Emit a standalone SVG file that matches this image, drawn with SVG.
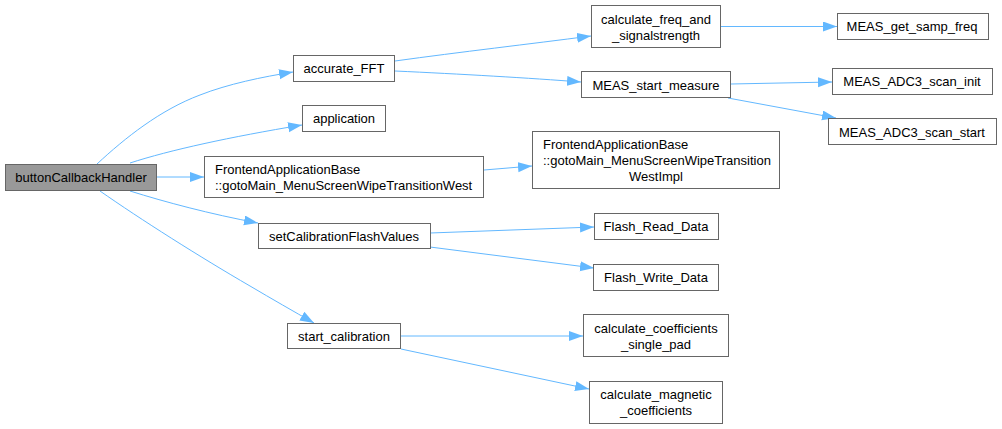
<svg xmlns="http://www.w3.org/2000/svg" width="1002" height="429" viewBox="0 0 1002 429">
<style>
.n rect{fill:#ffffff;stroke:#666666;stroke-width:1}
.n rect.hl{fill:#999999}
.n text{font-family:"Liberation Sans",Arial,sans-serif;font-size:13px;fill:#000000}
.c{text-anchor:middle}
.e path{fill:none;stroke:#63b8ff;stroke-width:1;marker-end:url(#arr)}
</style>
<defs>
<marker id="arr" markerWidth="15" markerHeight="11" refX="14" refY="5" orient="auto" markerUnits="userSpaceOnUse">
<path d="M0,0 L14,5 L0,10 z" fill="#63b8ff" stroke="none"/>
</marker>
</defs>
<rect width="1002" height="429" fill="#ffffff"/>
<g id="edges" class="e">
<path d="M97,164 C125,138 160,110 200,95 C228,84 262,77 293,72"/>
<path d="M130,163 C170,150 230,137 302,125"/>
<path d="M157,177 L204,177"/>
<path d="M130,191 C165,202 210,214 258,223"/>
<path d="M100,191 C140,219 200,257 250,286 C272,299 293,311 314,323"/>
<path d="M395,61 C460,52 530,44 591,36"/>
<path d="M395,71 C460,74 530,78 581,82"/>
<path d="M721,26.5 L837,26.5"/>
<path d="M731,84 L832,82"/>
<path d="M728,98 L836,118"/>
<path d="M484,170 L532,166"/>
<path d="M430,233 L594,227"/>
<path d="M430,247 L594,268"/>
<path d="M401,336 L583,336"/>
<path d="M401,349 L589,389"/>
</g>
<g id="buttonCallbackHandler" class="n"><rect class="hl" x="5.5" y="164.5" width="151" height="26"/><text class="c" x="81" y="182">buttonCallbackHandler</text></g>
<g id="accurate_FFT" class="n"><rect x="293.5" y="55.5" width="101" height="26"/><text class="c" x="344" y="73">accurate_FFT</text></g>
<g id="application" class="n"><rect x="302.5" y="105.5" width="83" height="26"/><text class="c" x="344" y="123">application</text></g>
<g id="gotoMain_West" class="n"><rect x="204.5" y="156.5" width="279" height="41"/><text x="215" y="173.5">FrontendApplicationBase</text><text x="215" y="190">::gotoMain_MenuScreenWipeTransitionWest</text></g>
<g id="setCalibrationFlashValues" class="n"><rect x="258.5" y="223.5" width="172" height="25"/><text class="c" x="344" y="241">setCalibrationFlashValues</text></g>
<g id="start_calibration" class="n"><rect x="287.5" y="323.5" width="113" height="25"/><text class="c" x="344" y="341">start_calibration</text></g>
<g id="calculate_freq_and_signalstrength" class="n"><rect x="591.5" y="5.5" width="129" height="42"/><text class="c" x="656" y="23.5">calculate_freq_and</text><text class="c" x="656" y="39.5">_signalstrength</text></g>
<g id="MEAS_start_measure" class="n"><rect x="581.5" y="71.5" width="149" height="26"/><text class="c" x="656" y="89.5">MEAS_start_measure</text></g>
<g id="gotoMain_WestImpl" class="n"><rect x="532.5" y="131.5" width="247" height="57"/><text x="543" y="148.5">FrontendApplicationBase</text><text x="543" y="165">::gotoMain_MenuScreenWipeTransition</text><text class="c" x="656" y="181">WestImpl</text></g>
<g id="Flash_Read_Data" class="n"><rect x="594.5" y="213.5" width="124" height="26"/><text class="c" x="656" y="231">Flash_Read_Data</text></g>
<g id="Flash_Write_Data" class="n"><rect x="593.5" y="264.5" width="125" height="26"/><text class="c" x="656" y="282">Flash_Write_Data</text></g>
<g id="calculate_coefficients_single_pad" class="n"><rect x="583.5" y="314.5" width="145" height="42"/><text class="c" x="656" y="333">calculate_coefficients</text><text class="c" x="656" y="349">_single_pad</text></g>
<g id="calculate_magnetic_coefficients" class="n"><rect x="589.5" y="381.5" width="133" height="42"/><text class="c" x="656" y="399">calculate_magnetic</text><text class="c" x="656" y="414.5">_coefficients</text></g>
<g id="MEAS_get_samp_freq" class="n"><rect x="837.5" y="13.5" width="151" height="26"/><text class="c" x="912" y="31">MEAS_get_samp_freq</text></g>
<g id="MEAS_ADC3_scan_init" class="n"><rect x="832.5" y="68.5" width="160" height="26"/><text class="c" x="912" y="86">MEAS_ADC3_scan_init</text></g>
<g id="MEAS_ADC3_scan_start" class="n"><rect x="828.5" y="118.5" width="168" height="26"/><text class="c" x="912" y="136.5">MEAS_ADC3_scan_start</text></g>
</svg>
